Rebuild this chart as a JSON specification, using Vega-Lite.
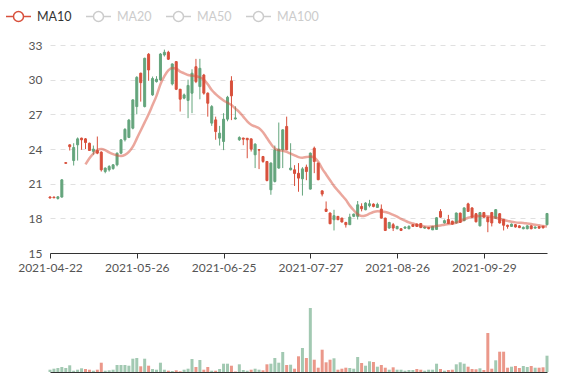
{
"$schema":"https://vega.github.io/schema/vega-lite/v6.json",
"padding":{"left":5,"top":3,"right":28,"bottom":7},
"config":{"view":{"stroke":null},"font":"Lato","axis":{"labelFont":"Lato","labelFontSize":12,"labelColor":"#555"}},
"datasets":{
"k":[
{"d":"2021-04-22","o":19.85,"h":19.9,"l":19.72,"c":19.76,"v":23000,"dir":"d","vd":"u"},
{"d":"2021-04-23","o":19.84,"h":19.88,"l":19.74,"c":19.78,"v":33000,"dir":"d","vd":"u"},
{"d":"2021-04-26","o":19.72,"h":19.92,"l":19.62,"c":19.86,"v":40000,"dir":"u","vd":"u"},
{"d":"2021-04-27","o":19.84,"h":21.4,"l":19.8,"c":21.33,"v":50000,"dir":"u","vd":"u"},
{"d":"2021-04-28","o":22.82,"h":22.85,"l":22.74,"c":22.76,"v":40000,"dir":"d","vd":"u"},
{"d":"2021-04-29","o":24.36,"h":24.4,"l":23.87,"c":24.2,"v":67000,"dir":"d","vd":"u"},
{"d":"2021-04-30","o":23.0,"h":24.5,"l":22.57,"c":24.13,"v":13000,"dir":"u","vd":"u"},
{"d":"2021-05-06","o":24.36,"h":25.0,"l":23.0,"c":24.88,"v":23000,"dir":"u","vd":"u"},
{"d":"2021-05-07","o":24.94,"h":24.98,"l":23.93,"c":24.79,"v":37000,"dir":"d","vd":"u"},
{"d":"2021-05-08","o":24.88,"h":24.95,"l":24.0,"c":24.56,"v":30000,"dir":"d","vd":"d"},
{"d":"2021-05-10","o":24.5,"h":24.55,"l":23.85,"c":23.87,"v":23000,"dir":"d","vd":"d"},
{"d":"2021-05-11","o":23.8,"h":24.3,"l":23.5,"c":23.99,"v":13000,"dir":"u","vd":"u"},
{"d":"2021-05-12","o":23.87,"h":25.08,"l":23.55,"c":23.64,"v":23000,"dir":"d","vd":"d"},
{"d":"2021-05-13","o":23.73,"h":23.8,"l":22.05,"c":22.2,"v":93000,"dir":"d","vd":"d"},
{"d":"2021-05-14","o":22.05,"h":22.4,"l":21.9,"c":22.35,"v":13000,"dir":"u","vd":"u"},
{"d":"2021-05-17","o":22.2,"h":22.6,"l":22.05,"c":22.49,"v":17000,"dir":"u","vd":"u"},
{"d":"2021-05-18","o":22.31,"h":22.7,"l":22.2,"c":22.63,"v":23000,"dir":"u","vd":"u"},
{"d":"2021-05-19","o":22.63,"h":23.7,"l":22.5,"c":23.64,"v":70000,"dir":"u","vd":"u"},
{"d":"2021-05-20","o":23.64,"h":24.85,"l":23.55,"c":24.79,"v":70000,"dir":"u","vd":"u"},
{"d":"2021-05-21","o":24.8,"h":25.8,"l":24.65,"c":25.7,"v":70000,"dir":"u","vd":"u"},
{"d":"2021-05-24","o":25.0,"h":26.6,"l":24.94,"c":26.5,"v":63000,"dir":"u","vd":"u"},
{"d":"2021-05-25","o":25.8,"h":28.3,"l":25.7,"c":28.25,"v":133000,"dir":"u","vd":"u"},
{"d":"2021-05-26","o":27.67,"h":30.3,"l":27.0,"c":30.2,"v":140000,"dir":"u","vd":"u"},
{"d":"2021-05-27","o":30.56,"h":30.6,"l":28.1,"c":29.74,"v":57000,"dir":"d","vd":"d"},
{"d":"2021-05-28","o":27.67,"h":31.9,"l":27.6,"c":31.85,"v":133000,"dir":"u","vd":"u"},
{"d":"2021-05-31","o":32.2,"h":32.3,"l":29.9,"c":30.84,"v":63000,"dir":"d","vd":"d"},
{"d":"2021-06-01","o":28.68,"h":30.27,"l":28.6,"c":30.1,"v":30000,"dir":"u","vd":"u"},
{"d":"2021-06-02","o":29.83,"h":30.3,"l":29.75,"c":30.04,"v":23000,"dir":"u","vd":"u"},
{"d":"2021-06-03","o":29.98,"h":32.3,"l":29.9,"c":32.22,"v":93000,"dir":"u","vd":"u"},
{"d":"2021-06-04","o":32.14,"h":32.6,"l":32.0,"c":32.37,"v":23000,"dir":"u","vd":"u"},
{"d":"2021-06-07","o":32.37,"h":32.5,"l":31.7,"c":31.77,"v":13000,"dir":"d","vd":"d"},
{"d":"2021-06-08","o":29.63,"h":31.4,"l":29.5,"c":31.36,"v":10000,"dir":"u","vd":"u"},
{"d":"2021-06-09","o":31.56,"h":31.6,"l":29.1,"c":29.17,"v":17000,"dir":"d","vd":"d"},
{"d":"2021-06-10","o":29.17,"h":29.2,"l":27.24,"c":28.31,"v":7000,"dir":"d","vd":"d"},
{"d":"2021-06-11","o":28.4,"h":28.8,"l":28.3,"c":28.68,"v":23000,"dir":"u","vd":"u"},
{"d":"2021-06-14","o":28.2,"h":30.0,"l":26.67,"c":29.5,"v":33000,"dir":"u","vd":"u"},
{"d":"2021-06-15","o":28.83,"h":30.9,"l":27.1,"c":30.56,"v":130000,"dir":"u","vd":"u"},
{"d":"2021-06-16","o":31.12,"h":31.8,"l":29.7,"c":29.83,"v":50000,"dir":"d","vd":"d"},
{"d":"2021-06-17","o":29.4,"h":31.8,"l":28.3,"c":30.98,"v":120000,"dir":"u","vd":"u"},
{"d":"2021-06-18","o":30.4,"h":30.5,"l":28.7,"c":28.83,"v":23000,"dir":"d","vd":"d"},
{"d":"2021-06-21","o":28.83,"h":28.9,"l":26.8,"c":27.96,"v":50000,"dir":"d","vd":"d"},
{"d":"2021-06-22","o":26.24,"h":27.8,"l":26.0,"c":27.67,"v":13000,"dir":"u","vd":"u"},
{"d":"2021-06-23","o":26.52,"h":26.8,"l":24.8,"c":25.51,"v":13000,"dir":"d","vd":"d"},
{"d":"2021-06-24","o":24.94,"h":26.0,"l":24.3,"c":25.37,"v":30000,"dir":"u","vd":"u"},
{"d":"2021-06-25","o":24.65,"h":27.1,"l":23.9,"c":26.58,"v":83000,"dir":"u","vd":"u"},
{"d":"2021-06-28","o":26.58,"h":28.6,"l":26.4,"c":28.48,"v":83000,"dir":"u","vd":"u"},
{"d":"2021-06-29","o":29.89,"h":30.3,"l":26.5,"c":28.6,"v":63000,"dir":"d","vd":"d"},
{"d":"2021-06-30","o":26.6,"h":27.7,"l":26.55,"c":26.69,"v":5000,"dir":"u","vd":"d"},
{"d":"2021-07-01","o":24.8,"h":25.1,"l":24.7,"c":24.99,"v":77000,"dir":"u","vd":"u"},
{"d":"2021-07-02","o":24.95,"h":24.97,"l":24.33,"c":24.85,"v":20000,"dir":"d","vd":"u"},
{"d":"2021-07-05","o":24.93,"h":24.95,"l":23.2,"c":24.8,"v":13000,"dir":"d","vd":"u"},
{"d":"2021-07-06","o":24.88,"h":24.9,"l":23.78,"c":23.99,"v":23000,"dir":"d","vd":"d"},
{"d":"2021-07-07","o":23.5,"h":24.5,"l":22.35,"c":24.42,"v":33000,"dir":"u","vd":"u"},
{"d":"2021-07-08","o":23.95,"h":23.97,"l":22.26,"c":23.9,"v":23000,"dir":"d","vd":"u"},
{"d":"2021-07-09","o":23.35,"h":23.4,"l":22.8,"c":22.92,"v":17000,"dir":"d","vd":"d"},
{"d":"2021-07-12","o":22.92,"h":22.95,"l":21.2,"c":21.27,"v":77000,"dir":"d","vd":"d"},
{"d":"2021-07-13","o":20.47,"h":22.85,"l":20.04,"c":22.78,"v":83000,"dir":"u","vd":"u"},
{"d":"2021-07-14","o":21.19,"h":24.3,"l":21.1,"c":23.93,"v":140000,"dir":"u","vd":"u"},
{"d":"2021-07-15","o":22.35,"h":26.29,"l":22.3,"c":23.99,"v":93000,"dir":"u","vd":"u"},
{"d":"2021-07-16","o":23.93,"h":25.7,"l":22.35,"c":25.66,"v":200000,"dir":"u","vd":"u"},
{"d":"2021-07-19","o":25.95,"h":26.8,"l":23.9,"c":23.93,"v":70000,"dir":"d","vd":"d"},
{"d":"2021-07-20","o":22.2,"h":24.5,"l":22.15,"c":22.35,"v":73000,"dir":"u","vd":"u"},
{"d":"2021-07-21","o":22.2,"h":22.6,"l":20.8,"c":21.88,"v":33000,"dir":"d","vd":"d"},
{"d":"2021-07-22","o":21.9,"h":22.78,"l":20.3,"c":21.48,"v":157000,"dir":"d","vd":"d"},
{"d":"2021-07-23","o":21.42,"h":22.43,"l":19.97,"c":22.28,"v":240000,"dir":"u","vd":"u"},
{"d":"2021-07-26","o":22.43,"h":22.65,"l":21.3,"c":22.05,"v":140000,"dir":"d","vd":"d"},
{"d":"2021-07-27","o":20.53,"h":23.7,"l":20.5,"c":23.64,"v":640000,"dir":"u","vd":"u"},
{"d":"2021-07-28","o":24.07,"h":24.21,"l":21.91,"c":22.92,"v":123000,"dir":"d","vd":"d"},
{"d":"2021-07-29","o":22.78,"h":22.8,"l":21.3,"c":21.34,"v":43000,"dir":"d","vd":"d"},
{"d":"2021-07-30","o":20.38,"h":20.4,"l":19.9,"c":20.1,"v":223000,"dir":"d","vd":"d"},
{"d":"2021-08-02","o":18.8,"h":19.46,"l":18.55,"c":18.6,"v":97000,"dir":"d","vd":"d"},
{"d":"2021-08-03","o":18.46,"h":18.5,"l":17.5,"c":17.53,"v":123000,"dir":"d","vd":"d"},
{"d":"2021-08-04","o":17.88,"h":18.74,"l":16.95,"c":18.23,"v":137000,"dir":"u","vd":"u"},
{"d":"2021-08-05","o":18.17,"h":18.2,"l":17.85,"c":17.88,"v":23000,"dir":"d","vd":"d"},
{"d":"2021-08-06","o":18.02,"h":18.05,"l":17.65,"c":17.68,"v":33000,"dir":"d","vd":"d"},
{"d":"2021-08-09","o":17.64,"h":17.7,"l":17.2,"c":17.45,"v":43000,"dir":"d","vd":"d"},
{"d":"2021-08-10","o":17.45,"h":18.4,"l":17.45,"c":18.11,"v":40000,"dir":"u","vd":"u"},
{"d":"2021-08-11","o":18.17,"h":18.4,"l":18.1,"c":18.37,"v":33000,"dir":"u","vd":"u"},
{"d":"2021-08-12","o":18.17,"h":19.5,"l":17.9,"c":19.17,"v":150000,"dir":"u","vd":"u"},
{"d":"2021-08-13","o":19.03,"h":19.3,"l":18.6,"c":18.83,"v":90000,"dir":"d","vd":"d"},
{"d":"2021-08-16","o":18.74,"h":19.4,"l":18.7,"c":19.32,"v":63000,"dir":"u","vd":"u"},
{"d":"2021-08-17","o":19.09,"h":19.6,"l":18.95,"c":19.26,"v":107000,"dir":"u","vd":"u"},
{"d":"2021-08-18","o":19.23,"h":19.3,"l":18.95,"c":19.03,"v":100000,"dir":"d","vd":"d"},
{"d":"2021-08-19","o":18.94,"h":19.35,"l":18.9,"c":19.2,"v":53000,"dir":"u","vd":"u"},
{"d":"2021-08-20","o":18.8,"h":19.2,"l":18.0,"c":18.02,"v":70000,"dir":"d","vd":"d"},
{"d":"2021-08-23","o":18.02,"h":18.05,"l":16.9,"c":16.95,"v":43000,"dir":"d","vd":"d"},
{"d":"2021-08-24","o":17.16,"h":17.7,"l":17.1,"c":17.64,"v":23000,"dir":"u","vd":"u"},
{"d":"2021-08-25","o":17.45,"h":17.6,"l":16.9,"c":17.16,"v":47000,"dir":"d","vd":"d"},
{"d":"2021-08-26","o":17.1,"h":17.35,"l":17.05,"c":17.3,"v":23000,"dir":"u","vd":"u"},
{"d":"2021-08-27","o":17.1,"h":17.15,"l":16.9,"c":16.95,"v":23000,"dir":"d","vd":"u"},
{"d":"2021-08-30","o":17.15,"h":17.3,"l":17.1,"c":17.25,"v":13000,"dir":"u","vd":"u"},
{"d":"2021-08-31","o":17.1,"h":17.4,"l":17.05,"c":17.3,"v":20000,"dir":"u","vd":"u"},
{"d":"2021-09-01","o":17.45,"h":17.5,"l":17.25,"c":17.3,"v":20000,"dir":"d","vd":"u"},
{"d":"2021-09-02","o":17.5,"h":17.55,"l":17.25,"c":17.3,"v":30000,"dir":"d","vd":"d"},
{"d":"2021-09-03","o":17.55,"h":17.6,"l":17.15,"c":17.2,"v":23000,"dir":"d","vd":"d"},
{"d":"2021-09-06","o":17.15,"h":17.3,"l":17.1,"c":17.25,"v":13000,"dir":"u","vd":"u"},
{"d":"2021-09-07","o":17.2,"h":17.25,"l":17.05,"c":17.1,"v":23000,"dir":"d","vd":"u"},
{"d":"2021-09-08","o":17.0,"h":17.35,"l":17.0,"c":17.3,"v":23000,"dir":"u","vd":"u"},
{"d":"2021-09-09","o":17.04,"h":18.1,"l":17.0,"c":18.05,"v":83000,"dir":"u","vd":"u"},
{"d":"2021-09-10","o":18.6,"h":18.8,"l":18.05,"c":18.1,"v":30000,"dir":"d","vd":"d"},
{"d":"2021-09-13","o":17.6,"h":17.9,"l":17.55,"c":17.8,"v":13000,"dir":"u","vd":"u"},
{"d":"2021-09-14","o":17.9,"h":18.3,"l":17.5,"c":17.55,"v":20000,"dir":"d","vd":"d"},
{"d":"2021-09-15","o":17.75,"h":17.8,"l":17.45,"c":17.5,"v":23000,"dir":"d","vd":"d"},
{"d":"2021-09-16","o":17.6,"h":18.5,"l":17.55,"c":18.46,"v":77000,"dir":"u","vd":"u"},
{"d":"2021-09-17","o":18.45,"h":18.5,"l":17.6,"c":17.65,"v":97000,"dir":"d","vd":"u"},
{"d":"2021-09-22","o":17.8,"h":18.95,"l":17.75,"c":18.9,"v":83000,"dir":"u","vd":"u"},
{"d":"2021-09-23","o":19.25,"h":19.35,"l":18.55,"c":18.6,"v":53000,"dir":"d","vd":"d"},
{"d":"2021-09-24","o":18.9,"h":18.95,"l":18.05,"c":18.1,"v":30000,"dir":"d","vd":"d"},
{"d":"2021-09-27","o":18.4,"h":18.45,"l":17.65,"c":17.7,"v":27000,"dir":"d","vd":"d"},
{"d":"2021-09-28","o":17.35,"h":18.55,"l":17.3,"c":18.5,"v":37000,"dir":"u","vd":"u"},
{"d":"2021-09-29","o":18.5,"h":18.55,"l":18.05,"c":18.1,"v":20000,"dir":"d","vd":"d"},
{"d":"2021-09-30","o":18.1,"h":18.15,"l":16.8,"c":17.7,"v":390000,"dir":"d","vd":"d"},
{"d":"2021-10-08","o":18.5,"h":18.55,"l":17.3,"c":17.6,"v":33000,"dir":"d","vd":"d"},
{"d":"2021-10-11","o":18.0,"h":18.8,"l":17.95,"c":18.75,"v":117000,"dir":"u","vd":"u"},
{"d":"2021-10-12","o":18.4,"h":18.45,"l":17.55,"c":17.6,"v":203000,"dir":"d","vd":"d"},
{"d":"2021-10-13","o":17.9,"h":17.95,"l":16.95,"c":17.4,"v":203000,"dir":"d","vd":"d"},
{"d":"2021-10-14","o":17.4,"h":17.45,"l":17.1,"c":17.3,"v":43000,"dir":"d","vd":"d"},
{"d":"2021-10-15","o":17.3,"h":17.55,"l":17.25,"c":17.5,"v":53000,"dir":"u","vd":"u"},
{"d":"2021-10-18","o":17.45,"h":17.5,"l":17.2,"c":17.25,"v":60000,"dir":"d","vd":"d"},
{"d":"2021-10-19","o":17.35,"h":17.4,"l":17.15,"c":17.2,"v":40000,"dir":"d","vd":"d"},
{"d":"2021-10-20","o":17.1,"h":17.3,"l":17.05,"c":17.22,"v":60000,"dir":"u","vd":"u"},
{"d":"2021-10-21","o":17.1,"h":17.4,"l":17.05,"c":17.35,"v":50000,"dir":"u","vd":"u"},
{"d":"2021-10-22","o":17.35,"h":17.4,"l":17.05,"c":17.1,"v":60000,"dir":"d","vd":"d"},
{"d":"2021-10-25","o":17.15,"h":17.3,"l":17.12,"c":17.25,"v":43000,"dir":"u","vd":"u"},
{"d":"2021-10-26","o":17.28,"h":17.35,"l":17.1,"c":17.15,"v":43000,"dir":"d","vd":"d"},
{"d":"2021-10-27","o":17.32,"h":17.35,"l":17.12,"c":17.18,"v":47000,"dir":"d","vd":"d"},
{"d":"2021-10-28","o":17.45,"h":18.45,"l":17.4,"c":18.42,"v":163000,"dir":"u","vd":"u"}
],
"ma":[
{"d":"2021-05-08","v":22.66,"s":"MA10"},{"d":"2021-05-10","v":23.2,"s":"MA10"},{"d":"2021-05-11","v":23.6,"s":"MA10"},{"d":"2021-05-12","v":23.9,"s":"MA10"},{"d":"2021-05-13","v":24.0,"s":"MA10"},{"d":"2021-05-14","v":23.9,"s":"MA10"},{"d":"2021-05-17","v":23.7,"s":"MA10"},{"d":"2021-05-18","v":23.55,"s":"MA10"},{"d":"2021-05-19","v":23.45,"s":"MA10"},{"d":"2021-05-20","v":23.4,"s":"MA10"},
{"d":"2021-05-21","v":23.5,"s":"MA10"},{"d":"2021-05-24","v":23.75,"s":"MA10"},{"d":"2021-05-25","v":24.2,"s":"MA10"},{"d":"2021-05-26","v":24.9,"s":"MA10"},{"d":"2021-05-27","v":25.6,"s":"MA10"},{"d":"2021-05-28","v":26.3,"s":"MA10"},{"d":"2021-05-31","v":27.0,"s":"MA10"},{"d":"2021-06-01","v":27.8,"s":"MA10"},{"d":"2021-06-02","v":28.6,"s":"MA10"},{"d":"2021-06-03","v":29.6,"s":"MA10"},
{"d":"2021-06-04","v":30.3,"s":"MA10"},{"d":"2021-06-07","v":30.8,"s":"MA10"},{"d":"2021-06-08","v":31.0,"s":"MA10"},{"d":"2021-06-09","v":30.95,"s":"MA10"},{"d":"2021-06-10","v":30.7,"s":"MA10"},{"d":"2021-06-11","v":30.55,"s":"MA10"},{"d":"2021-06-14","v":30.4,"s":"MA10"},{"d":"2021-06-15","v":30.35,"s":"MA10"},{"d":"2021-06-16","v":30.3,"s":"MA10"},{"d":"2021-06-17","v":30.2,"s":"MA10"},
{"d":"2021-06-18","v":30.0,"s":"MA10"},{"d":"2021-06-21","v":29.6,"s":"MA10"},{"d":"2021-06-22","v":29.1,"s":"MA10"},{"d":"2021-06-23","v":28.75,"s":"MA10"},{"d":"2021-06-24","v":28.45,"s":"MA10"},{"d":"2021-06-25","v":28.2,"s":"MA10"},{"d":"2021-06-28","v":28.0,"s":"MA10"},{"d":"2021-06-29","v":27.8,"s":"MA10"},{"d":"2021-06-30","v":27.5,"s":"MA10"},{"d":"2021-07-01","v":27.2,"s":"MA10"},
{"d":"2021-07-02","v":26.8,"s":"MA10"},{"d":"2021-07-05","v":26.4,"s":"MA10"},{"d":"2021-07-06","v":26.1,"s":"MA10"},{"d":"2021-07-07","v":25.95,"s":"MA10"},{"d":"2021-07-08","v":25.8,"s":"MA10"},{"d":"2021-07-09","v":25.45,"s":"MA10"},{"d":"2021-07-12","v":24.95,"s":"MA10"},{"d":"2021-07-13","v":24.45,"s":"MA10"},{"d":"2021-07-14","v":24.05,"s":"MA10"},{"d":"2021-07-15","v":23.9,"s":"MA10"},
{"d":"2021-07-16","v":23.85,"s":"MA10"},{"d":"2021-07-19","v":23.75,"s":"MA10"},{"d":"2021-07-20","v":23.6,"s":"MA10"},{"d":"2021-07-21","v":23.45,"s":"MA10"},{"d":"2021-07-22","v":23.3,"s":"MA10"},{"d":"2021-07-23","v":23.25,"s":"MA10"},{"d":"2021-07-26","v":23.3,"s":"MA10"},{"d":"2021-07-27","v":23.35,"s":"MA10"},{"d":"2021-07-28","v":23.25,"s":"MA10"},{"d":"2021-07-29","v":22.9,"s":"MA10"},
{"d":"2021-07-30","v":22.3,"s":"MA10"},{"d":"2021-08-02","v":21.8,"s":"MA10"},{"d":"2021-08-03","v":21.3,"s":"MA10"},{"d":"2021-08-04","v":20.8,"s":"MA10"},{"d":"2021-08-05","v":20.4,"s":"MA10"},{"d":"2021-08-06","v":20.0,"s":"MA10"},{"d":"2021-08-09","v":19.6,"s":"MA10"},{"d":"2021-08-10","v":19.1,"s":"MA10"},{"d":"2021-08-11","v":18.7,"s":"MA10"},{"d":"2021-08-12","v":18.35,"s":"MA10"},
{"d":"2021-08-13","v":18.2,"s":"MA10"},{"d":"2021-08-16","v":18.25,"s":"MA10"},{"d":"2021-08-17","v":18.4,"s":"MA10"},{"d":"2021-08-18","v":18.55,"s":"MA10"},{"d":"2021-08-19","v":18.62,"s":"MA10"},{"d":"2021-08-20","v":18.6,"s":"MA10"},{"d":"2021-08-23","v":18.55,"s":"MA10"},{"d":"2021-08-24","v":18.45,"s":"MA10"},{"d":"2021-08-25","v":18.3,"s":"MA10"},{"d":"2021-08-26","v":18.15,"s":"MA10"},
{"d":"2021-08-27","v":17.95,"s":"MA10"},{"d":"2021-08-30","v":17.8,"s":"MA10"},{"d":"2021-08-31","v":17.65,"s":"MA10"},{"d":"2021-09-01","v":17.55,"s":"MA10"},{"d":"2021-09-02","v":17.45,"s":"MA10"},{"d":"2021-09-03","v":17.35,"s":"MA10"},{"d":"2021-09-06","v":17.3,"s":"MA10"},{"d":"2021-09-07","v":17.28,"s":"MA10"},{"d":"2021-09-08","v":17.3,"s":"MA10"},{"d":"2021-09-09","v":17.33,"s":"MA10"},
{"d":"2021-09-10","v":17.38,"s":"MA10"},{"d":"2021-09-13","v":17.45,"s":"MA10"},{"d":"2021-09-14","v":17.5,"s":"MA10"},{"d":"2021-09-15","v":17.55,"s":"MA10"},{"d":"2021-09-16","v":17.62,"s":"MA10"},{"d":"2021-09-17","v":17.75,"s":"MA10"},{"d":"2021-09-22","v":17.9,"s":"MA10"},{"d":"2021-09-23","v":18.05,"s":"MA10"},{"d":"2021-09-24","v":18.12,"s":"MA10"},{"d":"2021-09-27","v":18.18,"s":"MA10"},
{"d":"2021-09-28","v":18.2,"s":"MA10"},{"d":"2021-09-29","v":18.2,"s":"MA10"},{"d":"2021-09-30","v":18.18,"s":"MA10"},{"d":"2021-10-08","v":18.12,"s":"MA10"},{"d":"2021-10-11","v":18.05,"s":"MA10"},{"d":"2021-10-12","v":17.95,"s":"MA10"},{"d":"2021-10-13","v":17.85,"s":"MA10"},{"d":"2021-10-14","v":17.78,"s":"MA10"},{"d":"2021-10-15","v":17.7,"s":"MA10"},{"d":"2021-10-18","v":17.65,"s":"MA10"},
{"d":"2021-10-19","v":17.62,"s":"MA10"},{"d":"2021-10-20","v":17.6,"s":"MA10"},{"d":"2021-10-21","v":17.55,"s":"MA10"},{"d":"2021-10-22","v":17.5,"s":"MA10"},{"d":"2021-10-25","v":17.45,"s":"MA10"},{"d":"2021-10-26","v":17.4,"s":"MA10"},{"d":"2021-10-27","v":17.33,"s":"MA10"},{"d":"2021-10-28","v":17.3,"s":"MA10"}
]
},
"vconcat":[
{
"width":497,"height":208,
"encoding":{
 "x":{"field":"d","type":"ordinal","scale":{"type":"point","padding":0},"axis":{"values":["2021-04-22","2021-05-26","2021-06-25","2021-07-27","2021-08-26","2021-09-29"],"labelAngle":0,"title":null,"domainColor":"#333","tickColor":"#333","tickSize":5,"labelPadding":4,"labelOverlap":false,"grid":false}}
},
"layer":[
{"data":{"name":"k"},"mark":{"type":"rule","strokeWidth":1},
 "encoding":{"y":{"field":"l","type":"quantitative","scale":{"domain":[15,33],"zero":false,"nice":false},"axis":{"values":[15,18,21,24,27,30,33],"title":null,"domain":false,"ticks":false,"labelPadding":8,"grid":true,"gridColor":"#e0e0e0","gridDash":[5,5]}},
 "y2":{"field":"h"},
 "stroke":{"field":"dir","type":"nominal","scale":{"domain":["u","d"],"range":["#64a57d","#d8503c"]},"legend":null}}},
{"data":{"name":"k"},"mark":{"type":"bar","size":2,"strokeWidth":1},
 "encoding":{"y":{"field":"o","type":"quantitative","axis":{"values":[15,18,21,24,27,30,33],"title":null,"domain":false,"ticks":false,"labelPadding":8,"grid":true,"gridColor":"#e0e0e0","gridDash":[5,5]}},"y2":{"field":"c"},
 "fill":{"field":"dir","type":"nominal","scale":{"domain":["u","d"],"range":["#64a57d","#d8503c"]},"legend":null},
 "stroke":{"field":"dir","type":"nominal","legend":null}}},
{"data":{"name":"ma"},"mark":{"type":"line","interpolate":"monotone","strokeWidth":2.5,"strokeOpacity":0.5},
 "encoding":{"y":{"field":"v","type":"quantitative","axis":{"values":[15,18,21,24,27,30,33],"title":null,"domain":false,"ticks":false,"labelPadding":8,"grid":true,"gridColor":"#e0e0e0","gridDash":[5,5]}},
 "color":{"field":"s","type":"nominal","scale":{"domain":["MA10","MA20","MA50","MA100"],"range":["#d8503c","#cccccc","#cccccc","#cccccc"]},
  "legend":{"orient":"none","legendX":-45,"legendY":-42,"direction":"horizontal","title":null,"padding":0,"gridAlign":"none",
   "symbolType":"M-1,0L-0.4,0M0.4,0L1,0M0.4,0A0.4,0.4,0,1,1,-0.4,0A0.4,0.4,0,1,1,0.4,0",
   "symbolSize":625,"symbolStrokeWidth":1.5,"symbolFillColor":"#ffffff","symbolOpacity":1,
   "labelFont":"Lato","labelFontSize":12.5,"labelOffset":5,"columnPadding":11,
   "encode":{"labels":{"update":{"fill":{"signal":"datum.value === 'MA10' ? '#333333' : '#cccccc'"}}},"symbols":{"update":{"strokeOpacity":{"value":1},"opacity":{"value":1}}}}}}}}
]
},
{
"width":497,"height":78,
"data":{"name":"k"},
"mark":{"type":"bar","size":3,"fillOpacity":0.85},
"encoding":{
 "x":{"field":"d","type":"ordinal","scale":{"type":"point","padding":0},"axis":{"labels":false,"ticks":false,"domainColor":"#333","title":null,"grid":false}},
 "y":{"field":"v","type":"quantitative","scale":{"domain":[0,780000]},"axis":null},
 "fill":{"field":"vd","type":"nominal","scale":{"domain":["u","d"],"range":["#92c0a4","#e88676"]},"legend":null}
}
}
],
"spacing":41,
"bounds":"flush",
"resolve":{"scale":{"x":"independent","y":"independent","fill":"independent","stroke":"independent","color":"independent"}}
}
